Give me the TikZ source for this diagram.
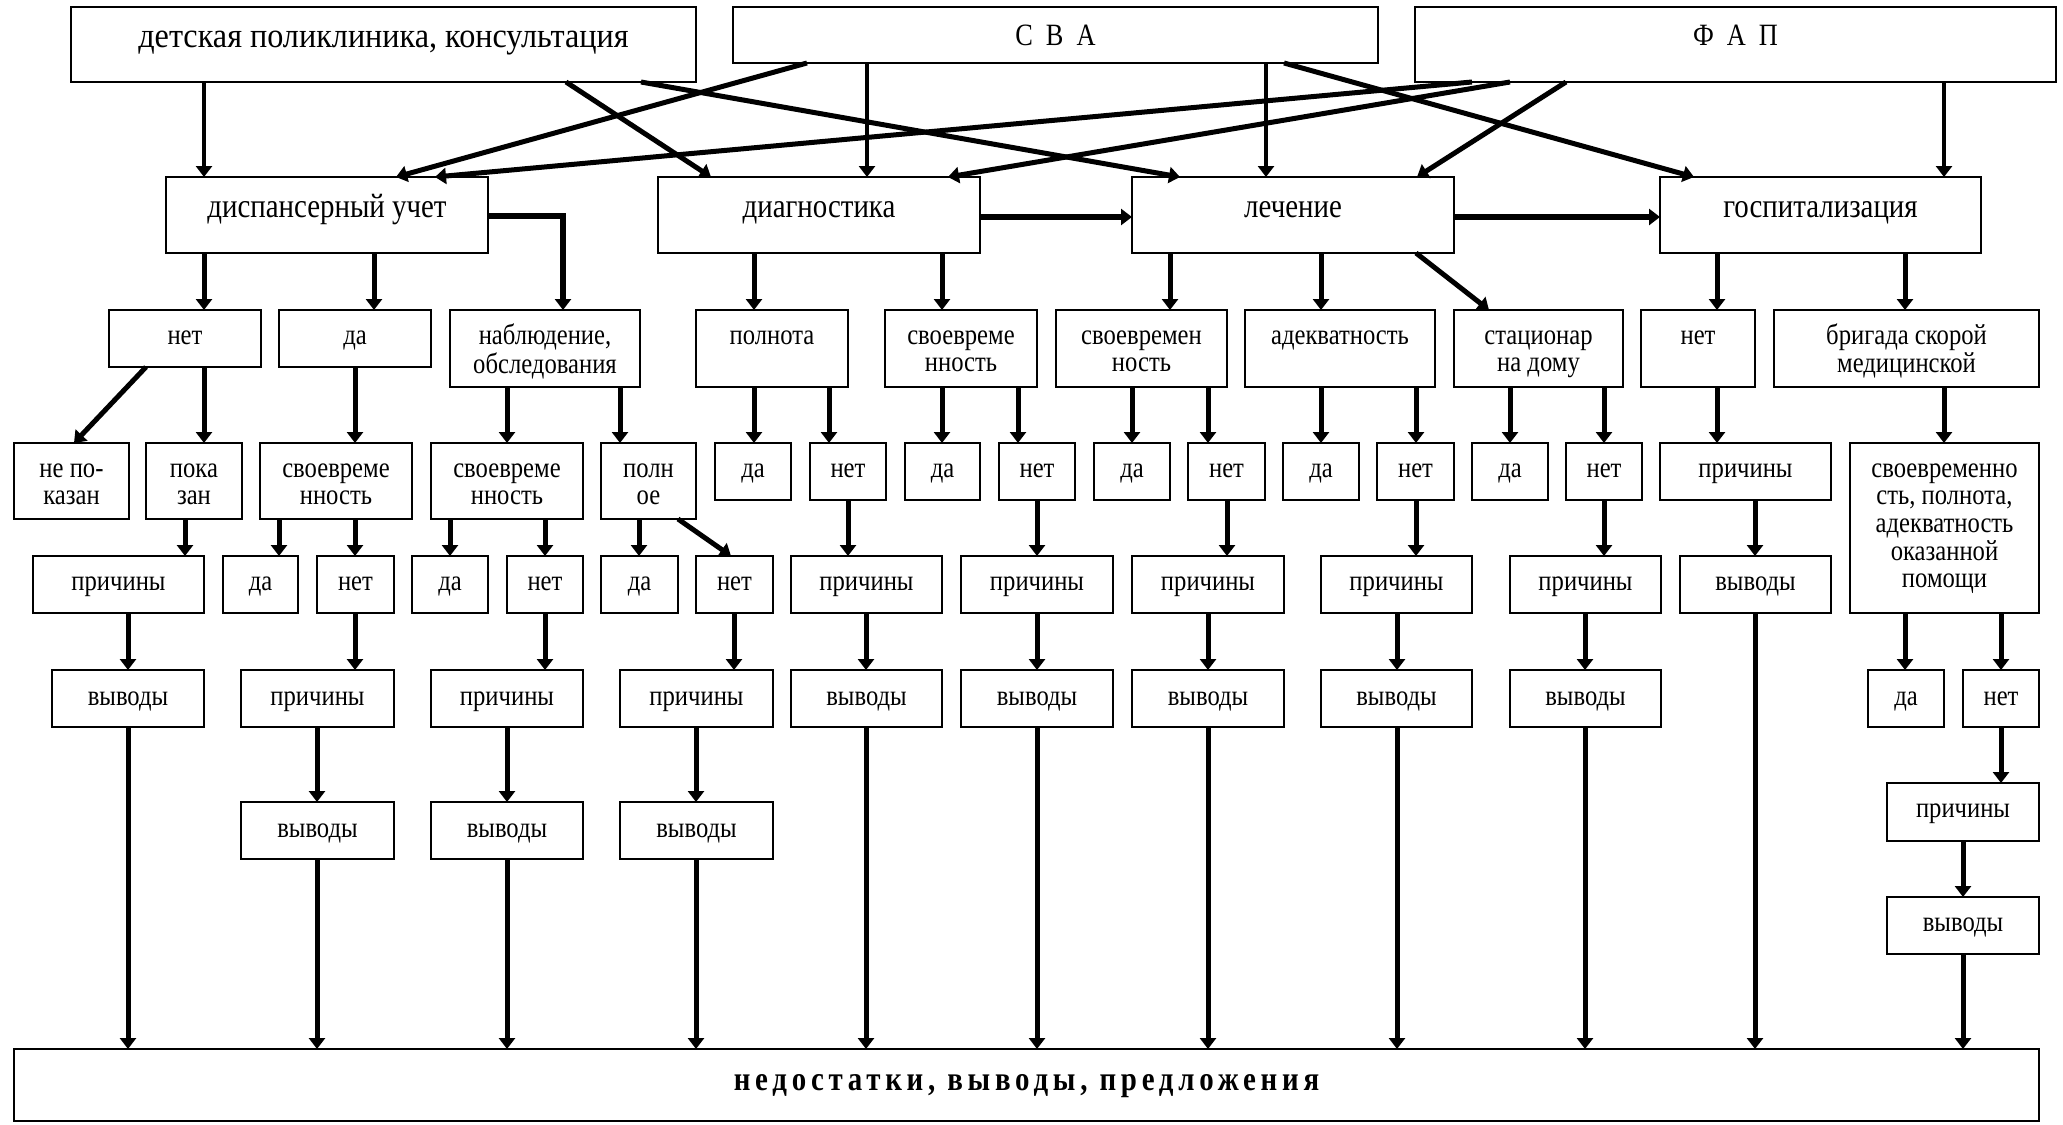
\documentclass[tikz,border=0pt]{standalone}
\usepackage{fontspec}
\setmainfont{Liberation Serif}[FakeStretch=0.85]
\newfontfamily\spacedserif{Liberation Serif}[FakeStretch=0.85,LetterSpace=14]
\newfontfamily\wideserif{Liberation Serif}[FakeStretch=0.92]
\usetikzlibrary{arrows.meta}
\newcommand\fsm{\fontsize{29}{27.5}\selectfont}
\newcommand\fmd{\fontsize{34}{36}\selectfont}
\newcommand\ftop{\wideserif\fontsize{35}{38}\selectfont}
\newcommand\fabbr{\fontsize{31}{34}\selectfont}
% lines of a label, the label's baseline being that of its first line
\newcommand\lines[1]{\begin{tabular}[t]{@{}c@{}}#1\end{tabular}}
% box: name, x1, y1, x2, y2, text baseline, text
\newcommand\bx[7]{%
  \node[box,minimum width={#4-#2},minimum height={#5-#3}] (#1) at ({(#2+#4)/2},{(#3+#5)/2}) {};
  \node[lbl] (#1-t) at ({(#2+#4)/2},#6) {\lines{#7}};}
% vertical connector from one box to the box below, at a given x
\newcommand\down[3]{\draw[arr] (#1.south -| #3,0) -- (#2.north -| #3,0);}
\begin{document}
\begin{tikzpicture}[x=1pt,y=-1pt,
  box/.style={draw,line width=2.5pt,inner sep=0pt,outer sep=0pt},
  lbl/.style={anchor=base,inner sep=0pt,font=\fsm},
  arr/.style={line width=5pt,-{Triangle[width=16pt,length=11pt]}},
  tarr/.style={arr,line width=3.5pt},
  harr/.style={arr,line width=6pt}]
\useasboundingbox (0,0) rectangle (2063,1124);

% top level
\bx{det}{71}{7}{696}{82}{48}{\ftop детская поликлиника, консультация}
\bx{sva}{733}{7}{1378}{63}{46}{\fabbr С\hspace{13pt}В\hspace{13pt}А}
\bx{fap}{1415}{7}{2056}{82}{46}{\fabbr Ф\hspace{13pt}А\hspace{13pt}П}

% main stages
\bx{disp}{166}{177}{488}{253}{217}{\fmd диспансерный учет}
\bx{diag}{658}{177}{980}{253}{217}{\fmd диагностика}
\bx{lech}{1132}{177}{1454}{253}{217}{\fmd лечение}
\bx{gosp}{1660}{177}{1981}{253}{217}{\fmd госпитализация}

% second level
\bx{net1}{109}{310}{261}{367}{344}{нет}
\bx{da1}{279}{310}{431}{367}{344}{да}
\bx{nabl}{450}{310}{640}{387}{344}{наблюдение,\\обследования}
\bx{poln}{696}{310}{848}{387}{344}{полнота}
\bx{svr3}{885}{310}{1037}{387}{344}{своевреме\\нность}
\bx{svr4}{1056}{310}{1227}{387}{344}{своевремен\\ность}
\bx{adek}{1245}{310}{1435}{387}{344}{адекватность}
\bx{stac}{1454}{310}{1623}{387}{344}{стационар\\на дому}
\bx{net2}{1641}{310}{1755}{387}{344}{нет}
\bx{brig}{1774}{310}{2039}{387}{344}{бригада скорой\\медицинской}

% third level
\bx{nepok}{14}{443}{129}{519}{477}{не по-\\казан}
\bx{pok}{146}{443}{242}{519}{477}{пока\\зан}
\bx{svr1}{260}{443}{412}{519}{477}{своевреме\\нность}
\bx{svr2}{431}{443}{583}{519}{477}{своевреме\\нность}
\bx{polnoe}{601}{443}{696}{519}{477}{полн\\ое}
\bx{dap}{715}{443}{791}{500}{477}{да}
\bx{netp}{810}{443}{886}{500}{477}{нет}
\bx{das3}{905}{443}{980}{500}{477}{да}
\bx{nets3}{999}{443}{1075}{500}{477}{нет}
\bx{das4}{1094}{443}{1170}{500}{477}{да}
\bx{nets4}{1188}{443}{1265}{500}{477}{нет}
\bx{daa}{1283}{443}{1359}{500}{477}{да}
\bx{neta}{1377}{443}{1454}{500}{477}{нет}
\bx{dast}{1472}{443}{1548}{500}{477}{да}
\bx{netst}{1566}{443}{1642}{500}{477}{нет}
\bx{prg}{1660}{443}{1831}{500}{477}{причины}
\bx{svpol}{1850}{443}{2039}{613}{477}{своевременно\\сть, полнота,\\адекватность\\оказанной\\помощи}

% fourth level
\bx{pr1}{33}{556}{204}{613}{590}{причины}
\bx{da11}{223}{556}{298}{613}{590}{да}
\bx{net11}{317}{556}{394}{613}{590}{нет}
\bx{da21}{412}{556}{488}{613}{590}{да}
\bx{net21}{507}{556}{583}{613}{590}{нет}
\bx{da31}{601}{556}{678}{613}{590}{да}
\bx{net31}{696}{556}{773}{613}{590}{нет}
\bx{prp}{791}{556}{942}{613}{590}{причины}
\bx{prs3}{961}{556}{1113}{613}{590}{причины}
\bx{prs4}{1132}{556}{1284}{613}{590}{причины}
\bx{pra}{1321}{556}{1472}{613}{590}{причины}
\bx{prst}{1510}{556}{1661}{613}{590}{причины}
\bx{vyg}{1680}{556}{1831}{613}{590}{выводы}

% fifth level
\bx{vy1}{52}{670}{204}{727}{705}{выводы}
\bx{pr11}{241}{670}{394}{727}{705}{причины}
\bx{pr21}{431}{670}{583}{727}{705}{причины}
\bx{pr31}{620}{670}{773}{727}{705}{причины}
\bx{vyp}{791}{670}{942}{727}{705}{выводы}
\bx{vys3}{961}{670}{1113}{727}{705}{выводы}
\bx{vys4}{1132}{670}{1284}{727}{705}{выводы}
\bx{vya}{1321}{670}{1472}{727}{705}{выводы}
\bx{vyst}{1510}{670}{1661}{727}{705}{выводы}
\bx{dab}{1868}{670}{1944}{727}{705}{да}
\bx{netb}{1963}{670}{2039}{727}{705}{нет}

% sixth level
\bx{vy11}{241}{802}{394}{859}{837}{выводы}
\bx{vy21}{431}{802}{583}{859}{837}{выводы}
\bx{vy31}{620}{802}{773}{859}{837}{выводы}
\bx{prb}{1887}{783}{2039}{841}{817}{причины}
\bx{vyb}{1887}{897}{2039}{954}{931}{выводы}

% summary
\bx{sum}{14}{1049}{2039}{1121}{1090}{\spacedserif\bfseries\fontsize{34}{36}\selectfont недостатки, выводы, предложения}

% links from the institutions to the stages
\draw[tarr] (det.south -| 204,0) -- (disp.north -| 204,0);
\draw[arr] (det.south -| 566,0) -- (diag.north -| 711,0);
\draw[arr] (det.south -| 641,0) -- (lech.north -| 1180,0);
\draw[arr] (sva.south -| 807,0) -- (disp.north -| 396,0);
\draw[tarr] (sva.south -| 867,0) -- (diag.north -| 867,0);
\draw[tarr] (sva.south -| 1266,0) -- (lech.north -| 1266,0);
\draw[arr] (sva.south -| 1284,0) -- (gosp.north -| 1694,0);
\draw[arr] (fap.south -| 1472,0) -- (disp.north -| 435,0);
\draw[arr] (fap.south -| 1510,0) -- (diag.north -| 948,0);
\draw[arr] (fap.south -| 1566,0) -- (lech.north -| 1417,0);
\draw[tarr] (fap.south -| 1944,0) -- (gosp.north -| 1944,0);

% links between the stages
\draw[harr] (diag.east |- 0,217) -- (lech.west |- 0,217);
\draw[harr] (lech.east |- 0,217) -- (gosp.west |- 0,217);
\draw[harr] (disp.east |- 0,216) -| (nabl.north -| 563,0);

% second level
\down{disp}{net1}{204}
\down{disp}{da1}{374}
\down{diag}{poln}{754}
\down{diag}{svr3}{942}
\down{lech}{svr4}{1170}
\down{lech}{adek}{1321}
\draw[arr] (lech.south -| 1416,0) -- (stac.north -| 1489,0);
\down{gosp}{net2}{1717}
\down{gosp}{brig}{1905}

% third level
\draw[arr] (net1.south -| 146,0) -- (nepok.north -| 74,0);
\down{net1}{pok}{204}
\down{da1}{svr1}{355}
\down{nabl}{svr2}{507}
\down{nabl}{polnoe}{620}
\down{poln}{dap}{754}
\down{poln}{netp}{829}
\down{svr3}{das3}{942}
\down{svr3}{nets3}{1018}
\down{svr4}{das4}{1132}
\down{svr4}{nets4}{1208}
\down{adek}{daa}{1321}
\down{adek}{neta}{1416}
\down{stac}{dast}{1510}
\down{stac}{netst}{1604}
\down{net2}{prg}{1717}
\down{brig}{svpol}{1944}

% fourth level
\down{pok}{pr1}{185}
\down{svr1}{da11}{279}
\down{svr1}{net11}{355}
\down{svr2}{da21}{450}
\down{svr2}{net21}{545}
\down{polnoe}{da31}{639}
\draw[arr] (polnoe.south -| 678,0) -- (net31.north -| 731,0);
\down{netp}{prp}{848}
\down{nets3}{prs3}{1037}
\down{nets4}{prs4}{1227}
\down{neta}{pra}{1416}
\down{netst}{prst}{1604}
\down{prg}{vyg}{1755}

% fifth level
\down{pr1}{vy1}{128}
\down{net11}{pr11}{355}
\down{net21}{pr21}{545}
\down{net31}{pr31}{734}
\down{prp}{vyp}{866}
\down{prs3}{vys3}{1037}
\down{prs4}{vys4}{1208}
\down{pra}{vya}{1397}
\down{prst}{vyst}{1585}
\down{svpol}{dab}{1905}
\down{svpol}{netb}{2001}

% sixth level
\down{pr11}{vy11}{317}
\down{pr21}{vy21}{507}
\down{pr31}{vy31}{696}
\down{netb}{prb}{2001}
\down{prb}{vyb}{1963}

% everything into the summary
\down{vy1}{sum}{128}
\down{vy11}{sum}{317}
\down{vy21}{sum}{507}
\down{vy31}{sum}{696}
\down{vyp}{sum}{866}
\down{vys3}{sum}{1037}
\down{vys4}{sum}{1208}
\down{vya}{sum}{1397}
\down{vyst}{sum}{1585}
\down{vyg}{sum}{1755}
\down{vyb}{sum}{1963}
\end{tikzpicture}
\end{document}
